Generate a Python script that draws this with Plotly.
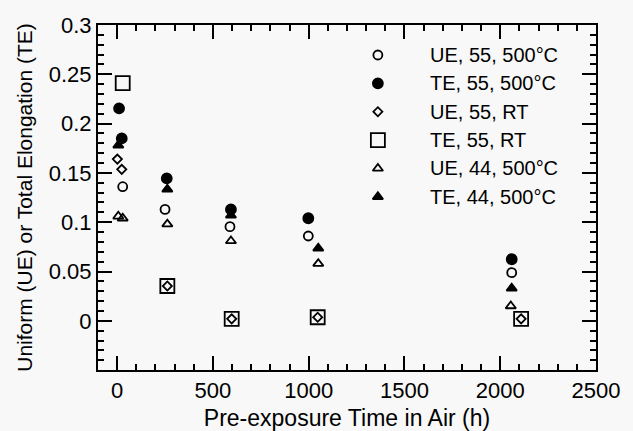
import plotly.graph_objects as go

# Pre-exposure time in air (h) and elongation values for each series
ue55_500_t = [29, 250, 589, 998, 2060]
ue55_500 = [0.136, 0.113, 0.0955, 0.086, 0.0488]

te55_500_t = [10, 24, 259, 594, 998, 2060]
te55_500 = [0.2155, 0.185, 0.1445, 0.113, 0.104, 0.0624]

ue55_rt_t = [1, 24, 262, 598, 1047, 2109]
ue55_rt = [0.164, 0.1536, 0.0353, 0.002, 0.0036, 0.002]

te55_rt_t = [29, 262, 598, 1047, 2109]
te55_rt = [0.241, 0.0353, 0.002, 0.0036, 0.002]

ue44_500_t = [6, 29, 262, 594, 1050, 2055]
ue44_500 = [0.106, 0.104, 0.098, 0.081, 0.058, 0.015]

te44_500_t = [6, 262, 594, 1050, 2060]
te44_500 = [0.178, 0.1334, 0.107, 0.0735, 0.033]

# Axis ticks: majors every 500 h / 0.05, minors every 100 h / 0.01
x_major, x_minor = 500, 100
y_major, y_minor = 0.05, 0.01

series = [
    ("UE, 55, 500°C", ue55_500_t, ue55_500, "circle-open", 9),
    ("TE, 55, 500°C", te55_500_t, te55_500, "circle", 10),
    ("UE, 55, RT", ue55_rt_t, ue55_rt, "diamond-open", 7),
    ("TE, 55, RT", te55_rt_t, te55_rt, "square-open", 14),
    ("UE, 44, 500°C", ue44_500_t, ue44_500, "triangle-up-open", 9),
    ("TE, 44, 500°C", te44_500_t, te44_500, "triangle-up", 9),
]

FONT = "Arial, Liberation Sans, Helvetica, sans-serif"
BG = "#f7f8f7"

# key block placement, in fractions of the plotting area
KEY_MARK_X, KEY_TEXT_X = 0.562, 0.663
KEY_TOP, KEY_STEP = 0.913, 0.0822

fig = go.Figure()
for i, (name, xs, ys, sym, size) in enumerate(series):
    marker = dict(symbol=sym, size=size, color="black",
                  line=dict(color="black", width=1.8))
    fig.add_trace(go.Scatter(x=xs, y=ys, mode="markers", name=name,
                             marker=marker, showlegend=False))
    # key entry: symbol on the overlay axes, label as annotation
    row_y = KEY_TOP - i * KEY_STEP
    fig.add_trace(go.Scatter(x=[KEY_MARK_X], y=[row_y], mode="markers",
                             xaxis="x2", yaxis="y2", marker=marker,
                             showlegend=False, hoverinfo="skip",
                             cliponaxis=False))
    fig.add_annotation(x=KEY_TEXT_X, y=row_y, xref="x2", yref="y2",
                       text=name, showarrow=False, xanchor="left",
                       yanchor="middle",
                       font=dict(family=FONT, size=20, color="black"))

xaxis = dict(
    range=[-100, 2500], dtick=x_major,
    showline=True, linecolor="black", linewidth=2, mirror="ticks",
    ticks="inside", ticklen=14, tickwidth=1.5, tickcolor="black",
    showgrid=False, zeroline=False,
    minor=dict(ticks="inside", ticklen=6, dtick=x_minor),
    tickfont=dict(family=FONT, size=22, color="black"),
    title=dict(text="Pre-exposure Time in Air (h)",
               font=dict(family=FONT, size=23, color="black"), standoff=20),
)
# lower bound kept just above -0.05 so no label is printed on the bottom edge
yaxis = dict(
    range=[-0.0499, 0.3], dtick=y_major,
    showline=True, linecolor="black", linewidth=2, mirror="ticks",
    ticks="inside", ticklen=14, tickwidth=1.5, tickcolor="black",
    showgrid=False, zeroline=False,
    minor=dict(ticks="inside", ticklen=6, dtick=y_minor),
    tickfont=dict(family=FONT, size=22, color="black"),
    title=dict(text="Uniform (UE) or Total Elongation (TE)",
               font=dict(family=FONT, size=21, color="black"), standoff=10),
)

fig.update_layout(
    width=633, height=431,
    margin=dict(l=98, r=37, t=25, b=61, autoexpand=False),
    paper_bgcolor=BG, plot_bgcolor=BG,
    showlegend=False,
    xaxis=xaxis,
    yaxis=yaxis,
    xaxis2=dict(overlaying="x", anchor="y2", range=[0, 1], visible=False),
    yaxis2=dict(overlaying="y", anchor="x2", range=[0, 1], visible=False),
)

fig.write_html("out.html")
